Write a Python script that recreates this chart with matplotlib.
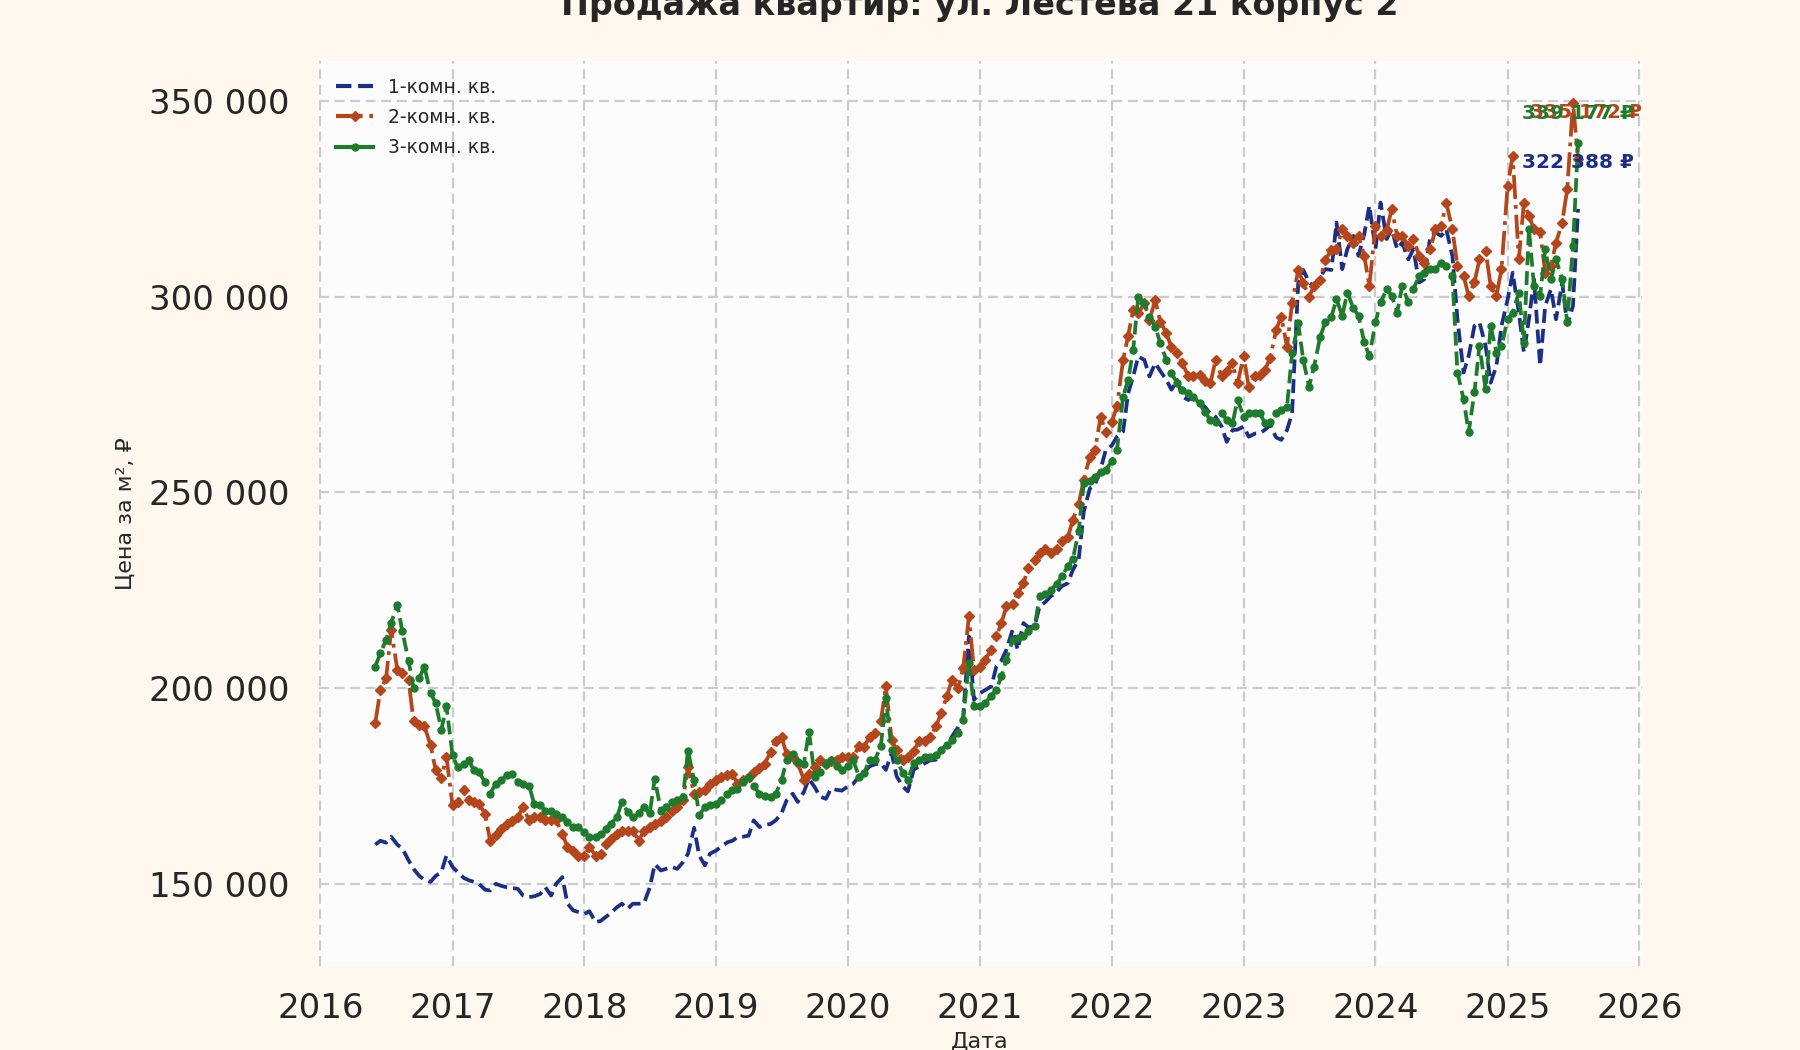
import matplotlib
matplotlib.use("Agg")
import matplotlib.pyplot as plt
import matplotlib.dates as mdates
from matplotlib.lines import Line2D
from matplotlib.ticker import FuncFormatter, MultipleLocator
import pandas as pd

# semi-monthly observations, 2016-06-01 .. 2025-07-15
dates = pd.date_range("2016-06-01", "2025-07-15", freq="SMS")

# price per m2, thousand roubles
room1 = [
    160, 161, 160.5, 162, 160, 159, 156, 153.8, 152, 151, 150.5, 152, 153, 157.2,
    154.3, 153, 151.5, 150.9, 150.5, 150, 148.5, 148.3, 150, 149.5, 149.1, 148.9,
    148.7, 147, 146.6, 146.8, 147.4, 149.1, 147, 150, 151.7, 145, 143.2, 142.8,
    142.3, 143, 140.2, 140.5, 141.5, 142.5, 144, 144.9, 143.6, 144.9, 144.9, 145,
    149, 155, 153.4, 153.8, 154.3, 153.8, 155.5, 157.7, 164.3, 157.2, 154.7, 157.7,
    158.5, 159.5, 160.6, 161, 161.9, 162, 162.3, 166.2, 164.5, 165, 165.3, 166.2,
    168, 171.3, 173, 170.9, 173.5, 176.8, 174.7, 172.3, 171.7, 174.3, 174, 173.8,
    174.9, 175.5, 177.4, 178.5, 180, 180.5, 180.8, 179.1, 183.4, 177.4, 174.9, 173.6,
    179.1, 180, 180.8, 181.5, 181.7, 184.2, 185.5, 187.6, 190, 192.5, 213.2, 197,
    198.7, 199.5, 200.4, 205.5, 207, 209.8, 214.9, 209.8, 216.6, 215.5, 215.8, 220.9,
    222, 223.4, 224.5, 226, 226.8, 230.2, 232.8, 245, 251, 251.9, 256, 260.8,
    262, 264.2, 265.5, 275.3, 279.6, 284.7, 283.8, 279.6, 283, 281, 278.7, 276.2,
    278.7, 274.4, 273.6, 274.4, 272.5, 271.9, 270, 269.3, 266.8, 262.9, 265.9, 266,
    266.8, 264.2, 265, 265.1, 266, 267.2, 264, 263.4, 265.9, 270.2, 303.4, 306.8,
    303.6, 302.6, 305.1, 307, 306.8, 318.9, 307, 312.1, 315.5, 310.4, 316, 323.2,
    312.1, 324, 314.7, 317.2, 312.1, 313.8, 309.5, 312.1, 303.6, 304.4, 315.5, 316.4,
    315.5, 317.2, 310.4, 294.2, 280.6, 284.8, 292.5, 293.4, 287.4, 278, 282.3, 292.5,
    299.3, 306.1, 295.9, 285.7, 294.2, 304.4, 282.3, 297.6, 301.9, 294.2, 303.6, 292.8,
    297.6, 322.388,
]
room2 = [
    191.1, 199.5, 202.5, 214.9, 204.7, 203.8, 202.1, 191.5, 190.6, 190.2, 185.5, 179.1, 177, 182.5,
    170, 170.9, 173.9, 171.3, 170.9, 170.5, 167.9, 161, 162.4, 164, 165.3, 166,
    167, 169.6, 166.2, 167, 167, 166.2, 166.2, 166.2, 162.8, 159.4, 158.5, 157.2,
    157.2, 159.4, 157.2, 157.7, 160.2, 161.5, 162.8, 163.6, 163.6, 163.6, 161, 163.6,
    164.5, 165.3, 166, 167, 168.7, 169.5, 171.3, 179.8, 173, 173.5, 173.9, 175.5,
    176.4, 177.3, 177.8, 178.1, 175.6, 176.5, 177.3, 178.5, 179.5, 180.7, 183.6, 186.6,
    187.5, 183.2, 182.4, 180.8, 176.6, 178.1, 179.8, 181.7, 180.7, 181.3, 181.5, 182.4,
    182.5, 182.5, 185.1, 184.9, 187.6, 188.5, 191.5, 200.4, 186.8, 184.2, 181.7, 182.5,
    183.8, 186.4, 186.5, 187.6, 190.2, 193.6, 197.9, 202.1, 200, 205, 218.3, 204.7,
    205.5, 207.2, 209.8, 213.2, 216.6, 220.9, 221.5, 224.3, 226.8, 230.7, 232.8, 234.5,
    235.5, 234.5, 235.5, 237.5, 238.5, 243, 247, 253.2, 259.1, 260.8, 269.3, 265.5,
    268, 272, 283.8, 290, 296.6, 295.7, 298.3, 294, 299.1, 293.6, 290.6, 287,
    285.5, 283, 279.6, 279.6, 280, 278.5, 277.9, 283.8, 279.6, 281, 283, 277.9,
    284.7, 277, 279.6, 280, 281.3, 284.2, 291.5, 294.9, 287.2, 298.3, 306.8, 303.4,
    300, 302.7, 304.3, 309.4, 311.9, 312.1, 317.2, 315.5, 313.8, 315.5, 310.4, 302.7,
    318, 315.5, 317, 322.3, 315.5, 315.5, 313, 314.7, 310.4, 308.7, 312.1, 317.2,
    318, 324, 317.2, 307.8, 305.3, 300.2, 303.6, 309.5, 311.7, 302.7, 300.2, 307,
    328.3, 336, 309.5, 324, 320.6, 317.2, 316.4, 306.1, 307.8, 313.8, 318.9, 327.4,
    349.5, 335.172,
]
room3 = [
    205.5, 208.9, 212.3, 216.6, 221.3, 214.5, 207, 200, 202.6, 205.5, 198.7, 196.2, 189.4, 195.3,
    182.8, 179.8, 180.5, 181.5, 179, 178.5, 176, 173, 175.6, 176.5, 177.7, 178.1,
    176, 175.6, 175.1, 170.4, 170, 168.7, 168.5, 167.9, 167, 165.8, 164.5, 164.5,
    163.2, 162, 161.9, 162.8, 164, 165.3, 167, 170.9, 168.3, 167, 168, 169.6,
    168, 176.8, 168.7, 169.6, 170.9, 171.5, 172.1, 184, 176.4, 167.5, 169.6, 170,
    170.4, 171.5, 173, 174, 174.3, 176, 177.3, 175, 173, 172.5, 172.1, 173,
    176.4, 181.5, 183.2, 181, 180.7, 188.9, 177.4, 178.5, 180.5, 181.7, 180, 179,
    180, 181.7, 177.3, 178.3, 181.7, 181.5, 185.1, 197.4, 184.2, 181.7, 178.3, 176.6,
    180.8, 181.5, 182.5, 182.5, 182.8, 184.2, 185.5, 186.8, 188.5, 191.9, 206.4, 195.3,
    195.5, 196.2, 198, 199.6, 203, 207.2, 212.3, 212.8, 213.2, 214.5, 215.8, 223.4,
    224, 225.1, 226.5, 228.5, 231.1, 233, 240, 252.3, 253, 254, 255.3, 255.7,
    258, 260.8, 274.4, 278.7, 286.4, 300, 298.3, 294.9, 292.3, 288.1, 283.8, 280.4,
    277.9, 276.2, 275.3, 274.4, 272.7, 270.5, 268.5, 268, 270.2, 268.5, 267.6, 273.6,
    269.3, 270.2, 270.2, 270.2, 267.6, 268, 270.2, 271, 271.9, 285.5, 293.2, 283.8,
    277, 282.1, 289.8, 293.4, 294.9, 299.3, 295.1, 301, 297, 295.1, 288.3, 284.8,
    293.4, 298.5, 301.9, 300.2, 295.9, 302.7, 298.5, 301.9, 305.3, 306.1, 307, 307,
    308.7, 307.8, 305.3, 280.6, 273.8, 265.3, 275.5, 287.4, 276.3, 292.5, 285.7, 287.4,
    294.2, 295.9, 301, 288.2, 317.2, 302.7, 300.2, 312.1, 304.4, 309.5, 304.4, 293.4,
    313, 339.177,
]
labels = ["1-комн. кв.", "2-комн. кв.", "3-комн. кв."]

c1, c2, c3 = "#1b2f86", "#b5461b", "#1e7b2c"
txt = "#262626"

fig = plt.figure(figsize=(18, 10.5), dpi=100, facecolor="#fff8ef")
ax = fig.add_axes([0.1772, 0.08, 0.735, 0.862])
ax.set_facecolor("#fcfcfd")
for s in ax.spines.values():
    s.set_visible(False)
ax.grid(True, linestyle=(0, (4.5, 2.5)), color="#cccccc", linewidth=1.6)
ax.set_axisbelow(True)

v1 = [v * 1000 for v in room1]
v2 = [v * 1000 for v in room2]
v3 = [v * 1000 for v in room3]

ax.plot(dates, v1, color=c1, linestyle="--", linewidth=2.7)
ax.plot(dates, v2, color=c2, linestyle="-.", linewidth=2.7, marker="D", markersize=5.5)
ax.plot(dates, v3, color=c3, linestyle="--", linewidth=2.7, marker="o", markersize=5)

# end labels
def rub(v):
    return f"{v:,.0f} ₽".replace(",", " ")

for vals, c, dx, dy in [(v1, c1, 0, 46), (v2, c2, 8, 46), (v3, c3, 0, 30)]:
    ax.annotate(rub(vals[-1]), xy=(dates[-1], vals[-1]), xytext=(dx, dy),
                textcoords="offset pixels", ha="center", va="center",
                fontsize=14.5, fontweight="bold", color=c)

ax.set_xlim(pd.Timestamp("2015-12-28"), pd.Timestamp("2026-01-08"))
ax.set_ylim(129000, 360200)
ax.xaxis.set_major_locator(mdates.YearLocator())
ax.xaxis.set_major_formatter(mdates.DateFormatter("%Y"))
ax.yaxis.set_major_locator(MultipleLocator(50000))
ax.yaxis.set_major_formatter(FuncFormatter(lambda x, p: f"{x:,.0f}".replace(",", " ")))
ax.tick_params(axis="both", length=0, labelsize=24.5, labelcolor=txt)
ax.tick_params(axis="y", pad=21)
ax.tick_params(axis="x", pad=19)

handles = [
    Line2D([], [], color=c1, linestyle="--", linewidth=3),
    Line2D([], [], color=c2, linestyle="-.", linewidth=3, marker="D", markersize=5),
    Line2D([], [], color=c3, linestyle="-", linewidth=3, marker="o", markersize=5),
]
ax.legend(handles, labels, loc="upper left", frameon=False, fontsize=13.5,
          labelcolor=txt, handlelength=2.0, labelspacing=0.6)

fig.text(0.5443, 1 - 15 / 1050, "Продажа квартир: ул. Лестева 21 корпус 2",
         ha="center", va="baseline", fontsize=24, fontweight="bold", color=txt)
fig.text(0.5443, 2 / 1050, "Дата", ha="center", va="baseline", fontsize=16, color=txt)
fig.text(0.07, 0.511, "Цена за м², ₽", ha="center", va="center", rotation=90,
         fontsize=16, color=txt)

fig.savefig("out.png", dpi=100, facecolor=fig.get_facecolor())
